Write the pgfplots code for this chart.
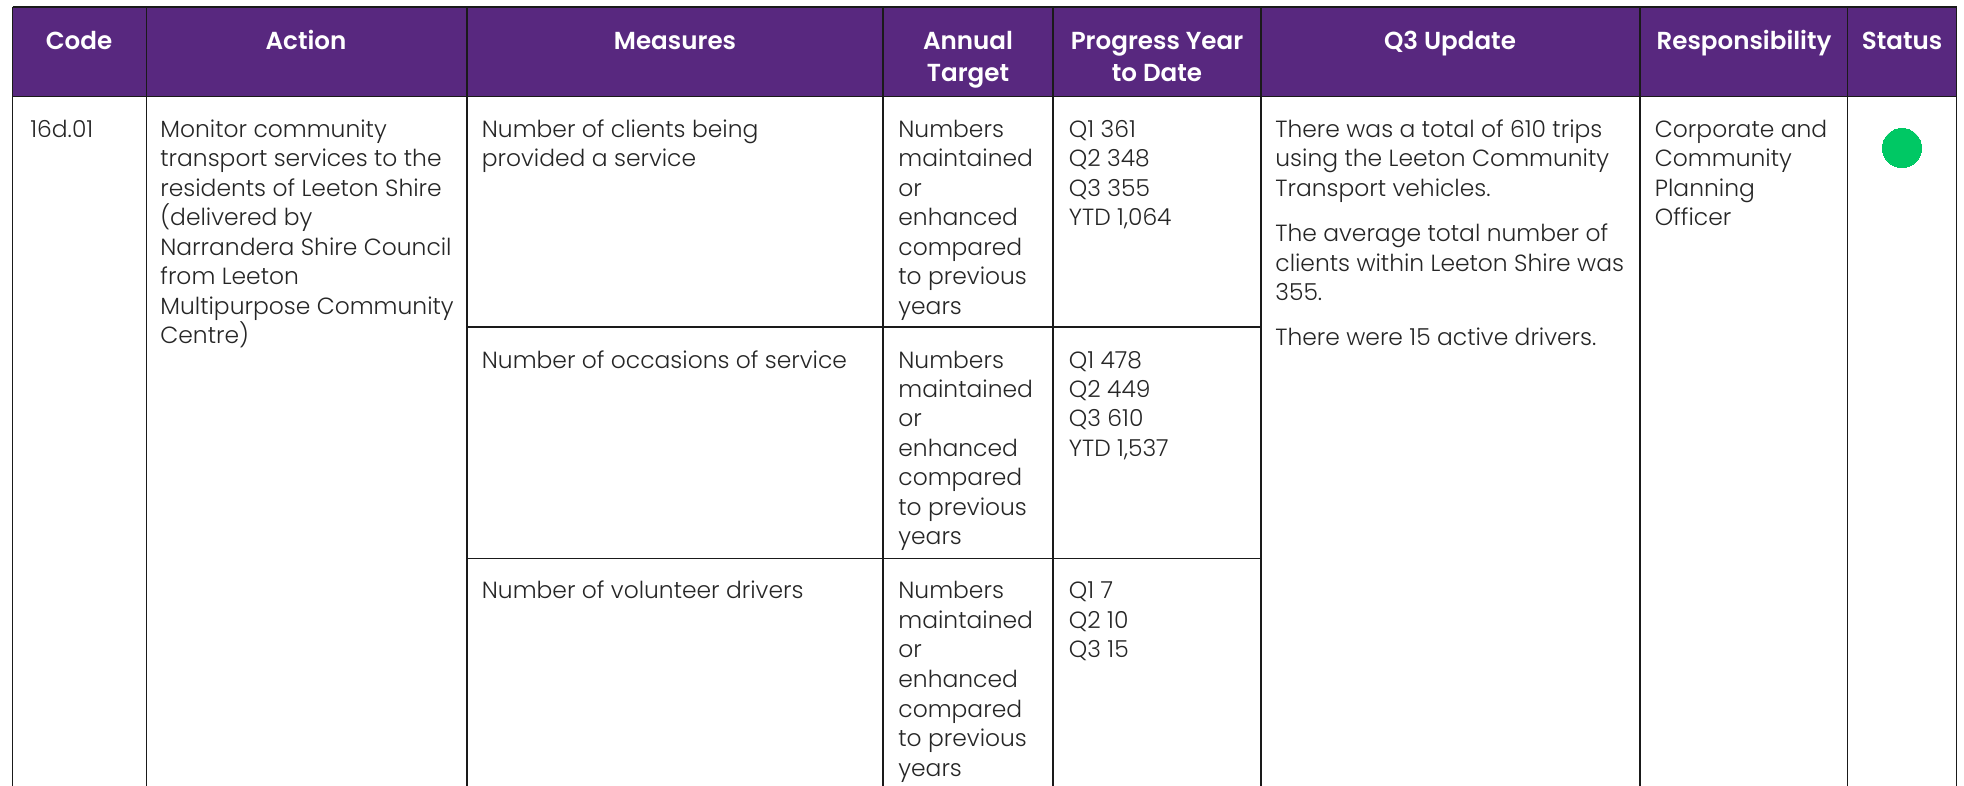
\documentclass[border=0pt]{standalone}
\usepackage{fontspec}
\usepackage{pgfplots}
\pgfplotsset{compat=1.18}
\setmainfont{Poppins}[UprightFont=* Light,BoldFont=* SemiBold]
\definecolor{purp}{HTML}{58287F}
\definecolor{okgreen}{HTML}{00C864}
\definecolor{rule}{HTML}{1A1A1A}
\newcommand\bodyf{\fontsize{11.7}{14}\selectfont}
\newcommand\headf{\fontsize{12.3}{14}\selectfont\bfseries}
\newcommand\T[3]{\node[anchor=base west,inner sep=0pt,font=\bodyf,text=black!85] at (axis cs:#1,#2) {#3};}
\newcommand\Hd[3]{\node[anchor=base,inner sep=0pt,font=\headf,text=white] at (axis cs:#1,#2) {#3};}
\begin{document}
\begin{tikzpicture}
\begin{axis}[
  x=0.5pt,y=0.5pt,y dir=reverse,
  xmin=0,xmax=1964,ymin=0,ymax=786,
  hide axis,clip=true,
  every axis plot/.append style={no markers}]
\addplot[fill=white,draw=none] coordinates {(0,0)(1964,0)(1964,786)(0,786)} -- cycle;
\addplot[fill=purp,draw=none] coordinates {(12.5,7)(1957,7)(1957,96.5)(12.5,96.5)} -- cycle;
\addplot[rule,line width=0.65pt] coordinates {(12.5,7)(1957,7)};
\addplot[rule,line width=0.65pt] coordinates {(12.5,96.5)(1957,96.5)};
\addplot[rule,line width=0.65pt] coordinates {(467,327)(1261,327)};
\addplot[rule,line width=0.65pt] coordinates {(467,558.6)(1261,558.6)};
\addplot[rule,line width=0.65pt] coordinates {(12.5,7)(12.5,786)};
\addplot[rule,line width=0.65pt] coordinates {(146.5,7)(146.5,786)};
\addplot[rule,line width=0.65pt] coordinates {(467,7)(467,786)};
\addplot[rule,line width=0.65pt] coordinates {(883,7)(883,786)};
\addplot[rule,line width=0.65pt] coordinates {(1053,7)(1053,786)};
\addplot[rule,line width=0.65pt] coordinates {(1261,7)(1261,786)};
\addplot[rule,line width=0.65pt] coordinates {(1640,7)(1640,786)};
\addplot[rule,line width=0.65pt] coordinates {(1847.6,7)(1847.6,786)};
\addplot[rule,line width=0.65pt] coordinates {(1956.6,7)(1956.6,786)};
\addplot[only marks,mark=*,mark size=9.8pt,mark options={fill=okgreen,draw=okgreen,line width=0pt}] coordinates {(1902,148)};
\Hd{79}{50}{Code}
\Hd{306}{50}{Action}
\Hd{675}{50}{Measures}
\Hd{968}{50}{Annual}
\Hd{968}{82}{Target}
\Hd{1157}{50}{Progress Year}
\Hd{1157}{82}{to Date}
\Hd{1450}{50}{Q3 Update}
\Hd{1744}{50}{Responsibility}
\Hd{1902}{50}{Status}
\T{30}{137.5}{16d.01}
\T{160}{137.5}{Monitor community}
\T{160}{166.9}{transport services to the}
\T{160}{196.4}{residents of Leeton Shire}
\T{160}{225.8}{(delivered by}
\T{160}{255.3}{Narrandera Shire Council}
\T{160}{284.7}{from Leeton}
\T{160}{314.2}{Multipurpose Community}
\T{160}{343.6}{Centre)}
\T{481.5}{137.5}{Number of clients being}
\T{481.5}{166.9}{provided a service}
\T{481.5}{368}{Number of occasions of service}
\T{481.5}{598.7}{Number of volunteer drivers}
\T{898}{137.5}{Numbers}
\T{898}{166.9}{maintained}
\T{898}{196.4}{or}
\T{898}{225.8}{enhanced}
\T{898}{255.3}{compared}
\T{898}{284.7}{to previous}
\T{898}{314.2}{years}
\T{898}{368}{Numbers}
\T{898}{397.5}{maintained}
\T{898}{426.9}{or}
\T{898}{456.4}{enhanced}
\T{898}{485.8}{compared}
\T{898}{515.3}{to previous}
\T{898}{544.7}{years}
\T{898}{598.7}{Numbers}
\T{898}{628.3}{maintained}
\T{898}{657.9}{or}
\T{898}{687.5}{enhanced}
\T{898}{717.1}{compared}
\T{898}{746.7}{to previous}
\T{898}{776.3}{years}
\T{1068.5}{137.5}{Q1 361}
\T{1068.5}{166.9}{Q2 348}
\T{1068.5}{196.4}{Q3 355}
\T{1068.5}{225.8}{YTD 1,064}
\T{1068.5}{368}{Q1 478}
\T{1068.5}{397.5}{Q2 449}
\T{1068.5}{426.9}{Q3 610}
\T{1068.5}{456.4}{YTD 1,537}
\T{1068.5}{598.7}{Q1 7}
\T{1068.5}{628.3}{Q2 10}
\T{1068.5}{657.9}{Q3 15}
\T{1275}{137.5}{There was a total of 610 trips}
\T{1275}{166.9}{using the Leeton Community}
\T{1275}{196.4}{Transport vehicles.}
\T{1275}{241.9}{The average total number of}
\T{1275}{271.2}{clients within Leeton Shire was}
\T{1275}{300.5}{355.}
\T{1275}{345.9}{There were 15 active drivers.}
\T{1654.5}{137.5}{Corporate and}
\T{1654.5}{166.9}{Community}
\T{1654.5}{196.4}{Planning}
\T{1654.5}{225.8}{Officer}
\end{axis}
\end{tikzpicture}
\end{document}
